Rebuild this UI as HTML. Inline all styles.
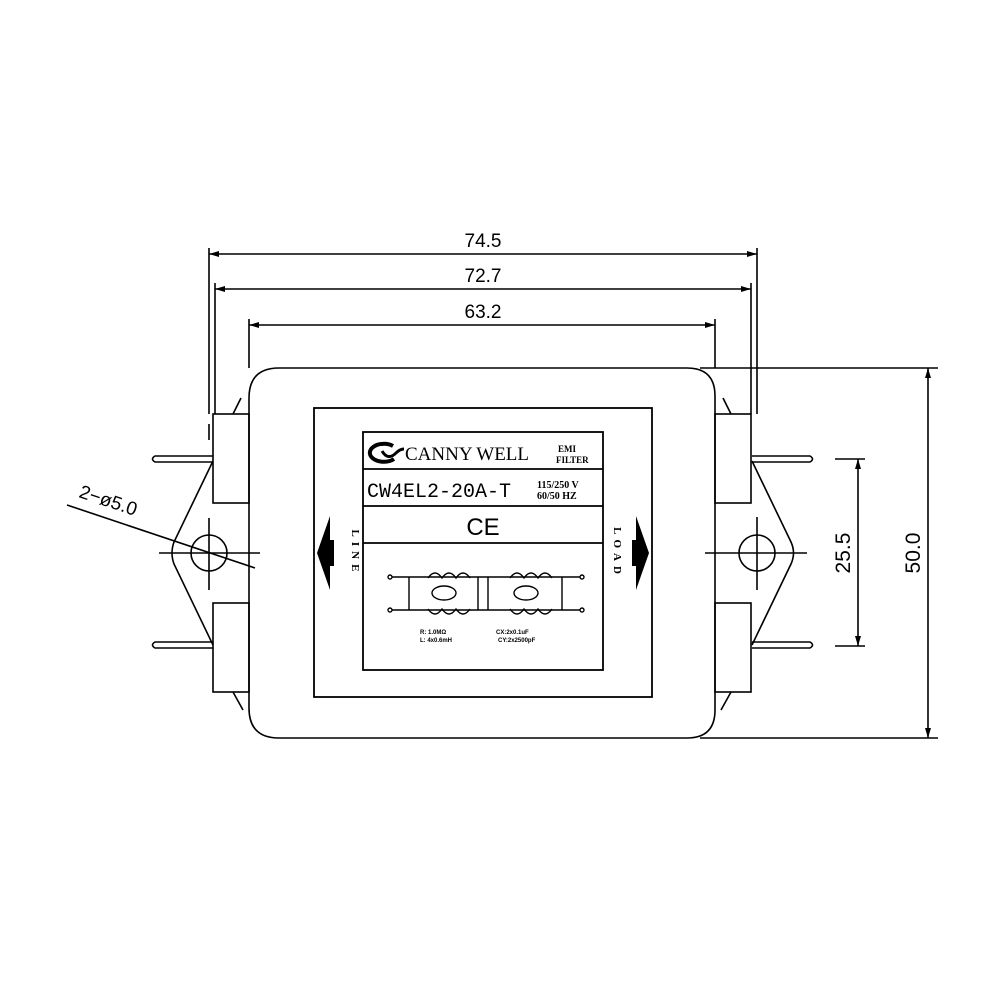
<!DOCTYPE html>
<html><head><meta charset="utf-8"><style>
html,body{margin:0;padding:0;background:#fff}
svg{display:block}
</style></head><body>
<svg width="1000" height="1000" viewBox="0 0 1000 1000" xmlns="http://www.w3.org/2000/svg" font-family="Liberation Sans, sans-serif">
<defs>
<marker id="a" viewBox="0 0 10 6" refX="10" refY="3" markerWidth="10" markerHeight="6" orient="auto-start-reverse" markerUnits="userSpaceOnUse"><path d="M0,0 L10,3 L0,6 Z" fill="#000"/></marker>
</defs>
<g stroke="#000" stroke-width="1.6" fill="none">
<line x1="209" y1="248" x2="209" y2="414"/>
<line x1="209" y1="424" x2="209" y2="440"/>
<line x1="215" y1="283" x2="215" y2="414"/>
<line x1="249" y1="319" x2="249" y2="368"/>
<line x1="757" y1="248" x2="757" y2="414"/>
<line x1="751" y1="283" x2="751" y2="414"/>
<line x1="715" y1="319" x2="715" y2="368"/>
<line x1="209" y1="254" x2="757" y2="254" marker-start="url(#a)" marker-end="url(#a)"/>
<line x1="215" y1="289" x2="751" y2="289" marker-start="url(#a)" marker-end="url(#a)"/>
<line x1="249" y1="325" x2="715" y2="325" marker-start="url(#a)" marker-end="url(#a)"/>
<line x1="700" y1="368" x2="938" y2="368"/>
<line x1="700" y1="738" x2="938" y2="738"/>
<line x1="928" y1="368" x2="928" y2="738" marker-start="url(#a)" marker-end="url(#a)"/>
<line x1="835" y1="459" x2="865" y2="459"/>
<line x1="835" y1="646" x2="865" y2="646"/>
<line x1="858" y1="459" x2="858" y2="646" marker-start="url(#a)" marker-end="url(#a)"/>
<path d="M279,368 H687 Q715,368 715,396 V710 Q715,738 687,738 H279 Q249,738 249,708 V398 Q249,368 279,368 Z" fill="#fff"/>
<line x1="241" y1="398" x2="233" y2="414"/>
<line x1="723" y1="398" x2="731" y2="414"/>
<line x1="233" y1="692" x2="243" y2="710"/>
<line x1="731" y1="692" x2="721" y2="710"/>
<rect x="213" y="414" width="36" height="89"/>
<rect x="213" y="603" width="36" height="89"/>
<rect x="715" y="414" width="36" height="89"/>
<rect x="715" y="603" width="36" height="89"/>
<path d="M213,461 L174,542 Q170,553 174,564 L213,645"/>
<path d="M752,461 L791,542 Q796,553 791,564 L752,645"/>
<circle cx="209" cy="553" r="18"/>
<circle cx="757" cy="553" r="18"/>
<line x1="159" y1="553" x2="260" y2="553"/>
<line x1="209" y1="518" x2="209" y2="590"/>
<line x1="705" y1="553" x2="807" y2="553"/>
<line x1="757" y1="517" x2="757" y2="590"/>
<path d="M213,456 H155 Q150,459 155,462 H213"/>
<path d="M213,642 H155 Q150,645 155,648 H213"/>
<path d="M752,456 H810 Q815,459 810,462 H752"/>
<path d="M752,642 H810 Q815,645 810,648 H752"/>
<line x1="67" y1="505" x2="255" y2="568"/>
</g>
<text x="0" y="0" font-size="19" transform="translate(78,497) rotate(18.5)">2−ø5.0</text>
<text x="483" y="247" font-size="19" text-anchor="middle">74.5</text>
<text x="483" y="282" font-size="19" text-anchor="middle">72.7</text>
<text x="483" y="318" font-size="19" text-anchor="middle">63.2</text>
<text font-size="21" text-anchor="middle" transform="translate(920,553) rotate(-90)">50.0</text>
<text font-size="21" text-anchor="middle" transform="translate(850,553) rotate(-90)">25.5</text>
<g stroke="#000" stroke-width="1.8" fill="none">
<rect x="314" y="408" width="338" height="289"/>
<rect x="363" y="432" width="240" height="238"/>
<line x1="363" y1="469" x2="603" y2="469"/>
<line x1="363" y1="506" x2="603" y2="506"/>
<line x1="363" y1="543" x2="603" y2="543"/>
</g>
<path d="M317,553 L330,516 V540 H334 V566 H330 V590 Z" fill="#000"/>
<path d="M649,553 L636,516 V540 H632 V566 H636 V590 Z" fill="#000"/>
<path d="M393,446 A14,9 0 1 0 394,459" fill="none" stroke="#000" stroke-width="4"/>
<path d="M382,451 q6,10 14,2 q4,-4 8,-4" fill="none" stroke="#000" stroke-width="3"/>
<text x="405" y="460" style="font-family:'Liberation Serif',serif" font-size="19">CANNY  WELL</text>
<text x="558" y="452" style="font-family:'Liberation Serif',serif" font-size="9" font-weight="bold">EMI</text>
<text x="556" y="463" style="font-family:'Liberation Serif',serif" font-size="9" font-weight="bold">FILTER</text>
<text x="367" y="497" style="font-family:'Liberation Mono',monospace" font-size="20">CW4EL2-20A-T</text>
<text x="537" y="488" style="font-family:'Liberation Serif',serif" font-size="10" font-weight="bold">115/250 V</text>
<text x="537" y="499" style="font-family:'Liberation Serif',serif" font-size="10" font-weight="bold">60/50 HZ</text>
<text x="483" y="535" font-size="24" text-anchor="middle">CE</text>
<text style="font-family:'Liberation Serif',serif" font-size="11" font-weight="bold" text-anchor="middle" letter-spacing="5" transform="translate(352,553) rotate(90)">LINE</text>
<text style="font-family:'Liberation Serif',serif" font-size="11" font-weight="bold" text-anchor="middle" letter-spacing="5" transform="translate(614,553) rotate(90)">LOAD</text>
<g stroke="#000" stroke-width="1.4" fill="none">
<line x1="392" y1="577" x2="580" y2="577"/>
<line x1="392" y1="610" x2="580" y2="610"/>
<line x1="409" y1="577" x2="409" y2="610"/>
<line x1="478" y1="577" x2="478" y2="610"/>
<line x1="488" y1="577" x2="488" y2="610"/>
<line x1="562" y1="577" x2="562" y2="610"/>
<circle cx="390" cy="577" r="2"/><circle cx="390" cy="610" r="2"/>
<circle cx="582" cy="577" r="2"/><circle cx="582" cy="610" r="2"/>
<path d="M428,578 q7,-10 14,0 q7,-10 14,0 q7,-10 14,0"/>
<path d="M428,609 q7,10 14,0 q7,10 14,0 q7,10 14,0"/>
<ellipse cx="444" cy="593" rx="12" ry="7"/>
<path d="M510,578 q7,-10 14,0 q7,-10 14,0 q7,-10 14,0"/>
<path d="M510,609 q7,10 14,0 q7,10 14,0 q7,10 14,0"/>
<ellipse cx="526" cy="593" rx="12" ry="7"/>
</g>
<text x="420" y="634" font-size="6" font-weight="bold">R: 1.0MΩ</text>
<text x="420" y="642" font-size="6" font-weight="bold">L: 4x0.6mH</text>
<text x="496" y="634" font-size="6" font-weight="bold">CX:2x0.1uF</text>
<text x="498" y="642" font-size="6" font-weight="bold">CY:2x2500pF</text>
</svg>
</body></html>
